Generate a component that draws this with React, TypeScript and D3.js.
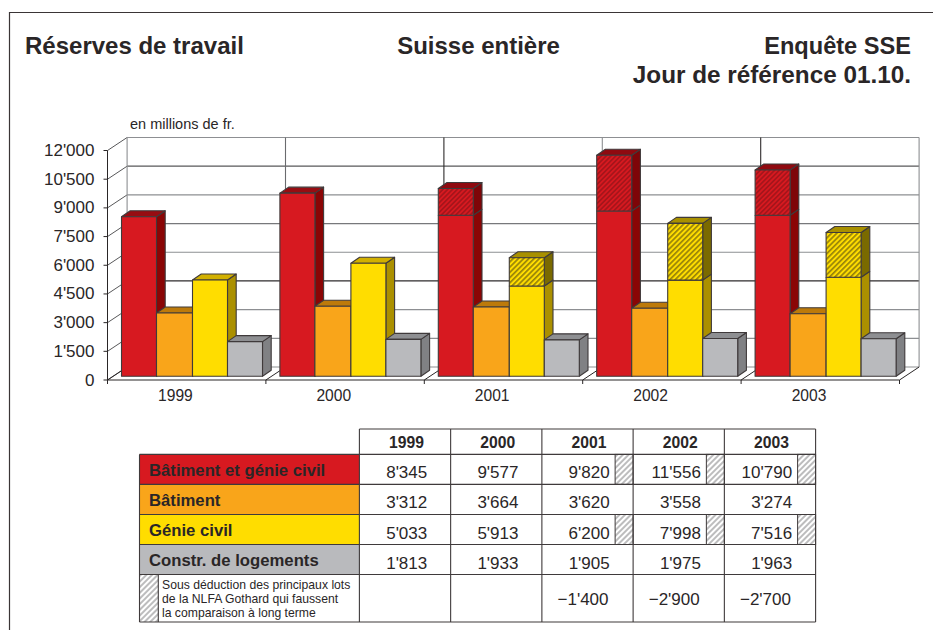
import React from "react";
import * as d3 from "d3";

const years = ["1999", "2000", "2001", "2002", "2003"];
const yTicks = [0, 1500, 3000, 4500, 6000, 7500, 9000, 10500, 12000];
const yTickLabels = ["0", "1'500", "3'000", "4'500", "6'000", "7'500", "9'000", "10'500", "12'000"];
const batimentGenie = [8345, 9577, 9820, 11556, 10790];
const batiment = [3312, 3664, 3620, 3558, 3274];
const genieCivil = [5033, 5913, 6200, 7998, 7516];
const logements = [1813, 1933, 1905, 1975, 1963];
// top of the solid part of each bar (hatching above it)
const solidBG = [8345, 9577, 8420, 8640, 8420];
const solidGC = [5033, 5913, 4720, 5030, 5176];
const rowNames = ["Bâtiment et génie civil", "Bâtiment", "Génie civil", "Constr. de logements"];
const rowText = [
  ["8'345", "9'577", "9'820", "11'556", "10'790"],
  ["3'312", "3'664", "3'620", "3'558", "3'274"],
  ["5'033", "5'913", "6'200", "7'998", "7'516"],
  ["1'813", "1'933", "1'905", "1'975", "1'963"],
];
const rowHatched = [[false, false, true, true, true], [false, false, false, false, false], [false, false, true, true, true], [false, false, false, false, false]];
const deductionText = ["", "", "−1'400", "−2'900", "−2'700"];
const noteLines = ["Sous déduction des principaux lots", "de la NLFA Gothard qui faussent", "la comparaison à long terme"];
const seriesColors = ["#d71920", "#f9a51a", "#ffdd00", "#b9babd"];
const topColors = ["#970d12", "#bd7a0a", "#d2b000", "#8e8f92"];
const sideColorsBar = ["#8a0505", "#b87a10", "#ab9000", "#808184"];
const hatchTop = ["#8f0a10", "", "#a89000", ""];
const hatchSide = ["#7e0508", "", "#7a6a00", ""];
const gridColors = ["#8d8f92", "#8d8f92", "#8d8f92", "#2e2b2c", "#8d8f92", "#77787b", "#8d8f92", "#58585a", "#8d8f92"];
const wallColors = ["#8d8f92", "#6a6b6e", "#2e2b2c", "#8d8f92", "#2e2b2c", "#8d8f92"];

const FONT = "'Liberation Sans', Arial, sans-serif";
const INK = "#2a2627";
const W = 933, H = 630;
const DX = 19.6, DY = 13;
const BDX = 8.7, BDY = 6;

const yAxis = d3.scaleLinear().domain([0, 12000]).range([380, 150.5]);
const barY = d3.scaleLinear().domain([0, 12000]).range([376.3, 146.8]);
const groupX = d3.scaleBand<string>().domain(years).range([107.5, 899.5]);
const colX = d3.scaleBand<string>().domain(years).range([359.4, 815.6]);
const rowY = d3.scaleOrdinal<number, number>().domain([0, 1, 2, 3]).range([454.4, 484.4, 514.5, 544.5]);
const ROW_H = 30;

function Box({ x, w, yTop, yBot, front, top, side, frontFill }: any) {
  return (
    <g stroke="#3f3a3b" strokeWidth={1.1} strokeLinejoin="round">
      <path d={`M${x + w},${yBot}L${x + w + BDX},${yBot - BDY}L${x + w + BDX},${yTop - BDY}L${x + w},${yTop}Z`} fill={side} />
      {top && <path d={`M${x},${yTop}L${x + BDX},${yTop - BDY}L${x + w + BDX},${yTop - BDY}L${x + w},${yTop}Z`} fill={top} />}
      <rect x={x} y={yTop} width={w} height={yBot - yTop} fill={frontFill ?? front} />
    </g>
  );
}

function Bars() {
  const offs = [14, 49, 85, 120];
  const widths = [35, 36, 35, 35];
  const series = [batimentGenie, batiment, genieCivil, logements];
  const solids = [solidBG, null, solidGC, null];
  return (
    <g>
      {years.map((yr, gi) => (
        <g key={yr}>
          {series.map((vals, si) => {
            const x = groupX(yr)! + offs[si];
            const w = widths[si];
            const v = vals[gi];
            const s = solids[si] ? solids[si]![gi] : v;
            if (s === v) {
              return <Box key={si} x={x} w={w} yTop={barY(v)} yBot={barY(0)} front={seriesColors[si]} top={topColors[si]} side={sideColorsBar[si]} />;
            }
            return (
              <g key={si}>
                <Box x={x} w={w} yTop={barY(s)} yBot={barY(0)} front={seriesColors[si]} side={sideColorsBar[si]} />
                <Box x={x} w={w} yTop={barY(v)} yBot={barY(s)} front={seriesColors[si]} frontFill={si === 0 ? "url(#hatchRed)" : "url(#hatchYellow)"} top={hatchTop[si]} side={hatchSide[si]} />
              </g>
            );
          })}
        </g>
      ))}
    </g>
  );
}

function Axes() {
  const x0 = groupX.range()[0], x1 = groupX.range()[1];
  const ticksX = [...years.map((y) => groupX(y)!), x1];
  return (
    <g fill="none">
      {yTicks.map((t, i) => (
        <g key={t}>
          <line x1={x0 + DX} x2={x1 + DX} y1={yAxis(t) - DY} y2={yAxis(t) - DY} stroke={gridColors[i]} strokeWidth={1.2} />
          <line x1={x0} x2={x0 + DX} y1={yAxis(t)} y2={yAxis(t) - DY} stroke="#58585a" strokeWidth={1} />
          <line x1={x0 - 4} x2={x0} y1={yAxis(t)} y2={yAxis(t)} stroke={INK} strokeWidth={1} />
        </g>
      ))}
      {ticksX.map((x, i) => (
        <g key={i}>
          <line x1={x + DX} x2={x + DX} y1={yAxis(0) - DY} y2={yAxis(12000) - DY} stroke={wallColors[i]} strokeWidth={1.1} />
          <line x1={x} x2={x + DX} y1={380} y2={380 - DY} stroke={INK} strokeWidth={1} />
          <line x1={x} x2={x} y1={380} y2={384} stroke={INK} strokeWidth={1} />
        </g>
      ))}
      <line x1={x0} x2={x0} y1={yAxis(12000)} y2={380} stroke={INK} strokeWidth={1} />
      <line x1={x0} x2={x1} y1={380} y2={380} stroke={INK} strokeWidth={1} />
    </g>
  );
}

function AxisLabels() {
  return (
    <g fontFamily={FONT} fill={INK}>
      {yTicks.map((t, i) => (
        <text key={t} x={94.5} y={yAxis(t) + 5.5} textAnchor="end" fontSize={17}>{yTickLabels[i]}</text>
      ))}
      {years.map((y) => (
        <text key={y} x={groupX(y)! + groupX.bandwidth() / 2 - 11.3} y={401} textAnchor="middle" fontSize={15.6}>{y}</text>
      ))}
      <text x={130} y={129} fontSize={14.5}>en millions de fr.</text>
    </g>
  );
}

function Table() {
  const colEdges = [...years.map((y) => colX(y)!), colX.range()[1]];
  const left = 139.5, top = 429, bottom = 622, noteTop = 574.5;
  const tw = colX.bandwidth();
  return (
    <g fontFamily={FONT} fill={INK}>
      {rowNames.map((n, i) => (
        <g key={n}>
          <rect x={left} y={rowY(i)} width={colEdges[0] - left} height={ROW_H} fill={seriesColors[i]} />
          <text x={149} y={rowY(i) + 21.6} fontSize={16.7} fontWeight="bold">{n}</text>
        </g>
      ))}
      <rect x={left} y={noteTop} width={18.8} height={bottom - noteTop} fill="url(#hatchGrey)" />
      {noteLines.map((l, i) => (
        <text key={i} x={162} y={noteTop + 14.5 + i * 13.9} fontSize={12.2}>{l}</text>
      ))}
      {rowHatched.map((row, r) =>
        row.map((h, c) =>
          h ? <rect key={`${r}-${c}`} x={colEdges[c + 1] - 18} y={rowY(r)} width={18} height={ROW_H} fill="url(#hatchGrey)" stroke="#3f3a3b" strokeWidth={1} /> : null
        )
      )}
      <g stroke="#3f3a3b" strokeWidth={1.1} fill="none">
        {colEdges.map((x, i) => (
          <line key={i} x1={x} x2={x} y1={top} y2={bottom} />
        ))}
        <line x1={left} x2={left} y1={454.4} y2={bottom} />
        <line x1={colEdges[0]} x2={colEdges[5]} y1={top} y2={top} />
        {[454.4, 484.4, 514.5, 544.5, 574.5, bottom].map((y, i) => (
          <line key={i} x1={left} x2={colEdges[5]} y1={y} y2={y} />
        ))}
        <line x1={left + 18.8} x2={left + 18.8} y1={noteTop} y2={bottom} />
      </g>
      {years.map((y) => (
        <text key={y} x={colX(y)! + tw / 2 + 1.5} y={448.3} fontSize={15.7} fontWeight="bold" textAnchor="middle">{y}</text>
      ))}
      {rowText.map((row, r) =>
        row.map((s, c) => (
          <text key={c} x={rowHatched[r][c] ? colEdges[c + 1] - 23.5 : colEdges[c] + tw / 2 + 1.7} y={rowY(r) + 24} fontSize={17} textAnchor={rowHatched[r][c] ? "end" : "middle"}>{s}</text>
        ))
      )}
      {deductionText.map((s, c) => (
        <text key={c} x={colEdges[c] + tw / 2 - 4.5} y={605} fontSize={17} textAnchor="middle">{s}</text>
      ))}
    </g>
  );
}

export default function App() {
  return (
    <svg width={W} height={H} viewBox={`0 0 ${W} ${H}`} style={{ position: "absolute", left: 0, top: 0, background: "#fff" }}>
      <defs>
        <pattern id="hatchRed" width={3.4} height={3.4} patternUnits="userSpaceOnUse" patternTransform="rotate(45)">
          <rect width={3.4} height={3.4} fill="#d71920" />
          <line x1={1.7} x2={1.7} y1={0} y2={3.4} stroke="#7a1015" strokeWidth={0.9} />
        </pattern>
        <pattern id="hatchYellow" width={3.7} height={3.7} patternUnits="userSpaceOnUse" patternTransform="rotate(45)">
          <rect width={3.7} height={3.7} fill="#ffdd00" />
          <line x1={1.8} x2={1.8} y1={0} y2={3.7} stroke="#4f4510" strokeWidth={1} />
        </pattern>
        <pattern id="hatchGrey" width={4} height={4} patternUnits="userSpaceOnUse" patternTransform="rotate(45)">
          <rect width={4} height={4} fill="#fff" />
          <line x1={2} x2={2} y1={0} y2={4} stroke="#58585a" strokeWidth={0.8} />
        </pattern>
      </defs>
      <path d={`M9.5,${H}V12.5H${W}`} fill="none" stroke="#3a3536" strokeWidth={1.2} />
      <g fontFamily={FONT} fontWeight="bold" fontSize={24} fill={INK}>
        <text x={25} y={54}>Réserves de travail</text>
        <text x={478.5} y={54} textAnchor="middle">Suisse entière</text>
        <text x={911} y={54} textAnchor="end" fontSize={23.6}>Enquête SSE</text>
        <text x={911} y={82.5} textAnchor="end" fontSize={24.3}>Jour de référence 01.10.</text>
      </g>
      <Axes />
      <Bars />
      <AxisLabels />
      <Table />
    </svg>
  );
}
